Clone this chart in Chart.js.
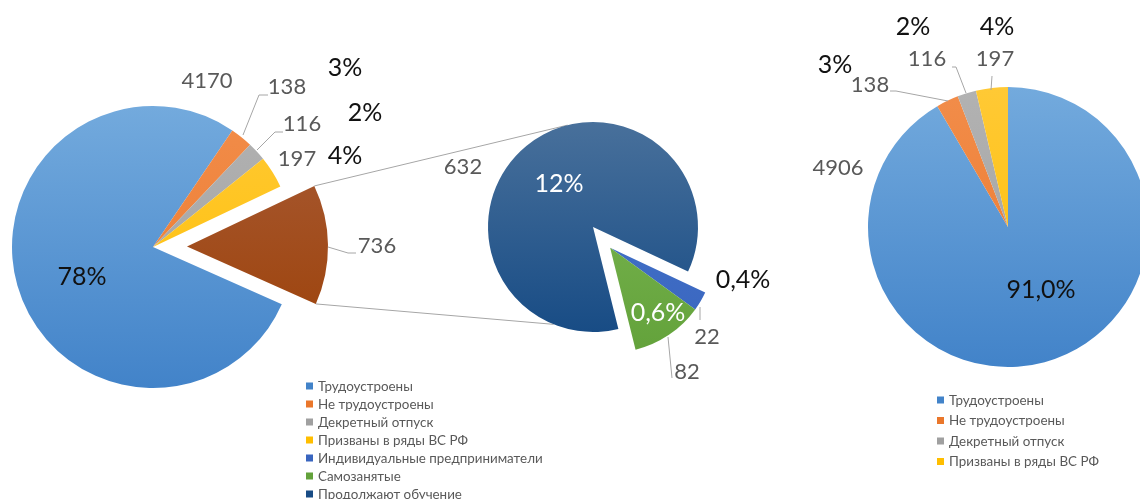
<!DOCTYPE html>
<html>
<head>
<meta charset="utf-8">
<script src="https://cdn.jsdelivr.net/npm/chart.js@4.4.0/dist/chart.umd.min.js"></script>
<style>
  html, body { margin: 0; padding: 0; background: #fff; }
  #wrap { position: relative; width: 1140px; height: 499px; overflow: hidden; }
  #wrap canvas { position: absolute; left: 0; top: 0; }
</style>
</head>
<body>
<div id="wrap">
  <canvas id="leftPie" width="1140" height="499"></canvas>
  <canvas id="leftCut" width="1140" height="499"></canvas>
  <canvas id="eduPie" width="1140" height="499"></canvas>
  <canvas id="eduCut" width="1140" height="499"></canvas>
  <canvas id="totalPie" width="1140" height="499"></canvas>
</div>
<script>
// data
const mainLabels = ['Трудоустроены', 'Не трудоустроены', 'Декретный отпуск', 'Призваны в ряды ВС РФ', 'Другое'];
const mainValues = [4170, 138, 116, 197, 736];
const mainPercents = ['78%', '3%', '2%', '4%', '13%'];

const eduLabels = ['Продолжают обучение', 'Индивидуальные предприниматели', 'Самозанятые'];
const eduValues = [632, 22, 82];
const eduPercents = ['12%', '0,4%', '0,6%'];

const totalLabels = ['Трудоустроены', 'Не трудоустроены', 'Декретный отпуск', 'Призваны в ряды ВС РФ'];
const totalValues = [4906, 138, 116, 197];
const totalPercents = ['91,0%', '3%', '2%', '4%'];

// styles / layout
const W = 1140, H = 499;
const FONT = 'Lato, "Open Sans", sans-serif';
const GREY_TXT = '#595959';
const DARK_TXT = '#111111';
const LINE = '#A6A6A6';
const NONE = 'rgba(0,0,0,0)';

const C = {
  blue:    ['#73AADD', '#4283C9'],
  orange:  ['#F28D4A', '#EA772B'],
  grey:    ['#B2B2B2', '#A0A0A0'],
  yellow:  ['#FFC935', '#FFBE00'],
  brown:   ['#A85C38', '#9B3E02'],
  eduBlue: ['#48709B', '#184C85'],
  ipBlue:  ['#4675CA', '#3965BF'],
  green:   ['#7DB853', '#63A23B']
};
const mainColors = [C.blue, C.orange, C.grey, C.yellow, C.brown];
const eduColors = [C.eduBlue, C.ipBlue, C.green];
const totalColors = [C.blue, C.orange, C.grey, C.yellow];

const LEFT = { cx: 153, cy: 247, r: 141, rotation: 114, explode: 34 };
const EDU = { cx: 593, cy: 227, r: 105, rotation: 166, explode: 27 };
const TOTAL = { cx: 1008, cy: 227, r: 140, rotation: 0 };

function padFor(cx, cy) {
  return {
    left: cx < W / 2 ? 0 : 2 * cx - W,
    right: cx < W / 2 ? W - 2 * cx : 0,
    top: cy < H / 2 ? 0 : 2 * cy - H,
    bottom: cy < H / 2 ? H - 2 * cy : 0
  };
}

function explodedCenter(conf, values, idx) {
  const total = values.reduce((a, b) => a + b, 0);
  let before = 0;
  for (let i = 0; i < idx[0]; i++) before += values[i];
  const span = idx.reduce((s, i) => s + values[i], 0);
  const mid = (conf.rotation + (before + span / 2) / total * 360) * Math.PI / 180;
  return { cx: conf.cx + conf.explode * Math.sin(mid), cy: conf.cy - conf.explode * Math.cos(mid), r: conf.r, rotation: conf.rotation };
}

function shaded(pairs, show) {
  return (c) => {
    if (show && !show.includes(c.dataIndex)) return NONE;
    const pair = pairs[c.dataIndex];
    const area = c.chart.chartArea;
    if (!area) return pair[1];
    const cy = (area.top + area.bottom) / 2, r = c.chart.options.radius;
    const g = c.chart.ctx.createLinearGradient(0, cy - r, 0, cy + r);
    g.addColorStop(0, pair[0]);
    g.addColorStop(1, pair[1]);
    return g;
  };
}

function pieChart(id, labels, values, colors, conf, show, plugins) {
  return new Chart(document.getElementById(id), {
    type: 'pie',
    data: {
      labels: labels,
      datasets: [{ data: values, backgroundColor: shaded(colors, show), borderWidth: 0, clip: false }]
    },
    options: {
      responsive: false,
      animation: false,
      events: [],
      rotation: conf.rotation,
      radius: conf.r,
      layout: { padding: padFor(conf.cx, conf.cy) },
      plugins: { legend: { display: false }, tooltip: { enabled: false } }
    },
    plugins: plugins || []
  });
}

function drawText(ctx, str, x, y, size, color) {
  ctx.save();
  ctx.font = size + 'px ' + FONT;
  ctx.fillStyle = color;
  ctx.textAlign = 'center';
  ctx.textBaseline = 'middle';
  ctx.fillText(str, x, y);
  ctx.restore();
}

function drawPath(ctx, pts, cx, cy) {
  ctx.save();
  ctx.strokeStyle = LINE;
  ctx.lineWidth = 1;
  ctx.beginPath();
  pts.forEach((p, i) => i ? ctx.lineTo(cx + p[0], cy + p[1]) : ctx.moveTo(cx + p[0], cy + p[1]));
  ctx.stroke();
  ctx.restore();
}

function labelPlugin(conf, items, leaders) {
  return {
    id: 'labels',
    afterDatasetsDraw(chart) {
      const ctx = chart.ctx;
      leaders.forEach(l => drawPath(ctx, l, conf.cx, conf.cy));
      items.forEach(it => drawText(ctx, it.text, conf.cx + it.pos[0], conf.cy + it.pos[1], it.size, it.color));
    }
  };
}

function legendPlugin(labels, colors, box) {
  return {
    id: 'sideLegend',
    afterDraw(chart) {
      const ctx = chart.ctx;
      ctx.save();
      ctx.font = box.size + 'px ' + FONT;
      ctx.textBaseline = 'middle';
      labels.forEach((lab, i) => {
        const y = box.y + i * box.step;
        ctx.fillStyle = colors[i];
        ctx.fillRect(box.x, y - 3.5, 7, 7);
        ctx.fillStyle = GREY_TXT;
        ctx.fillText(lab, box.x + 12, y + 0.5);
      });
      ctx.restore();
    }
  };
}

// left pie: values and percents
const leftValuePos = [[54, -166], [134, -160], [149, -123], [144, -88], [224, -1]];
const leftPctPos = [[-71, 30], [192, -179], [212, -134], [192, -91], [132, -3]];
const leftPctColor = [DARK_TXT, DARK_TXT, DARK_TXT, DARK_TXT, '#ffffff'];
const leftItems = [];
mainValues.forEach((v, i) => {
  leftItems.push({ text: String(v), pos: leftValuePos[i], size: 22, color: GREY_TXT });
  leftItems.push({ text: mainPercents[i], pos: leftPctPos[i], size: 25, color: leftPctColor[i] });
});
const leftLeaders = [
  [[90, -112], [106, -152], [115, -152]],
  [[104, -97], [122, -115], [130, -115]],
  [[175, 0], [195, 6], [203, 6]]
];

const legendLeftLabels = mainLabels.slice(0, 4).concat([eduLabels[1], eduLabels[2], eduLabels[0]]);
const legendLeftColors = [C.blue, C.orange, C.grey, C.yellow, C.ipBlue, C.green, C.eduBlue].map(p => p[1]);

pieChart('leftPie', mainLabels, mainValues, mainColors, LEFT, [0, 1, 2, 3],
  [labelPlugin(LEFT, leftItems, leftLeaders),
   legendPlugin(legendLeftLabels, legendLeftColors, { x: 306, y: 386, step: 18, size: 13.4 })]);

// exploded brown slice + lines to the secondary pie
const leftCutConf = explodedCenter(LEFT, mainValues, [4]);
const connectors = {
  id: 'connectors',
  beforeDatasetsDraw(chart) {
    const arc = chart.getDatasetMeta(0).data[4];
    const R = arc.outerRadius;
    const ends = [-14, 202].map(a => a * Math.PI / 180);
    const ctx = chart.ctx;
    ctx.save();
    ctx.strokeStyle = LINE;
    ctx.lineWidth = 1;
    [arc.startAngle, arc.endAngle].forEach((ang, i) => {
      ctx.beginPath();
      ctx.moveTo(arc.x + R * Math.cos(ang), arc.y + R * Math.sin(ang));
      ctx.lineTo(EDU.cx + EDU.r * Math.sin(ends[i]), EDU.cy - EDU.r * Math.cos(ends[i]));
      ctx.stroke();
    });
    ctx.restore();
  }
};
pieChart('leftCut', mainLabels, mainValues, mainColors, leftCutConf, [4], [connectors]);

// secondary pie
const eduValuePos = [[-130, -60], [114, 110], [94, 145]];
const eduPctPos = [[-34, -43], [150, 53], [65, 86]];
const eduPctColor = ['#ffffff', DARK_TXT, '#ffffff'];
const eduItems = [];
eduValues.forEach((v, i) => {
  eduItems.push({ text: String(v), pos: eduValuePos[i], size: 22, color: GREY_TXT });
  eduItems.push({ text: eduPercents[i], pos: eduPctPos[i], size: 25, color: eduPctColor[i] });
});
const eduLeaders = [
  [[107, 80], [107, 93]],
  [[75, 110], [79, 151]]
];
pieChart('eduPie', eduLabels, eduValues, eduColors, EDU, [0]);
pieChart('eduCut', eduLabels, eduValues, eduColors, explodedCenter(EDU, eduValues, [1, 2]), [1, 2],
  [labelPlugin(EDU, eduItems, eduLeaders)]);

// right pie
const totalValuePos = [[-170, -59], [-138, -142], [-81, -168], [-13, -168]];
const totalPctPos = [[33, 63], [-173, -162], [-95, -200], [-11, -200]];
const totalItems = [];
totalValues.forEach((v, i) => {
  totalItems.push({ text: String(v), pos: totalValuePos[i], size: 22, color: GREY_TXT });
  totalItems.push({ text: totalPercents[i], pos: totalPctPos[i], size: 25, color: DARK_TXT });
});
const totalLeaders = [
  [[-118, -136], [-112, -136], [-60, -126]],
  [[-56, -160], [-52, -160], [-42, -134]],
  [[-16, -151], [-17, -137]]
];
pieChart('totalPie', totalLabels, totalValues, totalColors, TOTAL, null,
  [labelPlugin(TOTAL, totalItems, totalLeaders),
   legendPlugin(totalLabels, totalColors.map(p => p[1]), { x: 937, y: 400, step: 20.5, size: 13.4 })]);
</script>
</body>
</html>
